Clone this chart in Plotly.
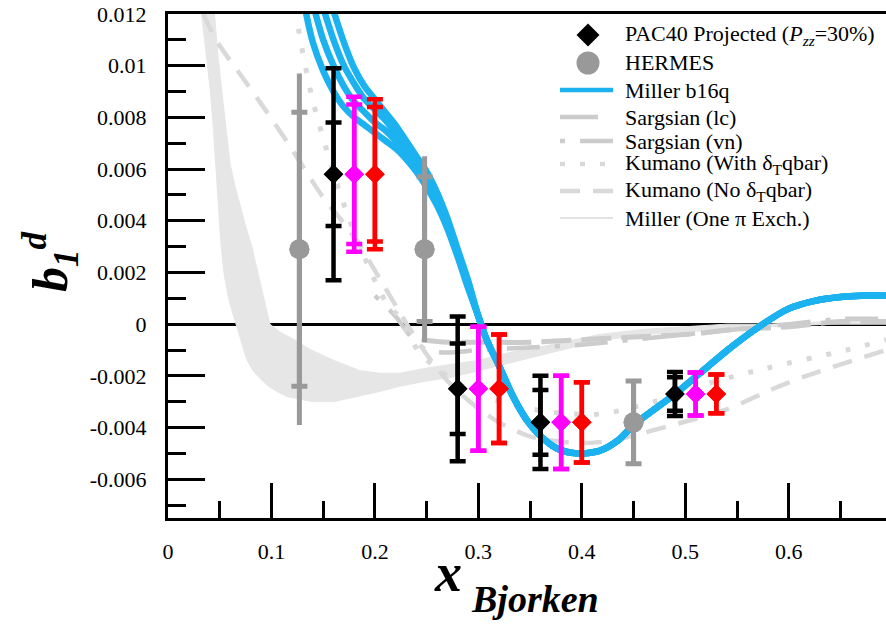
import plotly.graph_objects as go

# ---------------- data ----------------
# PAC40 projected points (black), with two companion series (magenta, red)
pac_x = [0.16, 0.28, 0.36, 0.49]
pac_y = [0.0058, -0.0025, -0.0038, -0.0027]
pac_err_total = [0.0041, 0.0028, 0.0018, 0.00085]
pac_err_stat = [0.0020, 0.00175, 0.00125, 0.00065]

mag_x = [0.18, 0.30, 0.38, 0.51]
mag_err_a = [0.0030, 0.0024, 0.0018, 0.00083]
mag_err_b = [0.0027, 0.0024, 0.0018, 0.00083]

red_x = [0.20, 0.32, 0.40, 0.53]
red_err_a = [0.0029, 0.0021, 0.00155, 0.00075]
red_err_b = [0.0026, 0.0021, 0.00155, 0.00075]

# HERMES measurement
hermes_x = [0.127, 0.248, 0.45]
hermes_y = [0.0029, 0.0029, -0.0038]
hermes_err_total = [0.0068, 0.0036, 0.0016]
hermes_err_stat = [0.0053, 0.0028, 0.0016]

# Miller b16q: four curves that merge into one above x ~ 0.3
b16q_1_x = [0.131, 0.14, 0.15, 0.16, 0.17, 0.18, 0.19, 0.20, 0.21, 0.22, 0.23, 0.24, 0.25, 0.26, 0.27, 0.28, 0.29]
b16q_1_y = [0.0125, 0.0109, 0.0098, 0.0090, 0.0084, 0.0080, 0.0077, 0.0074, 0.0071, 0.0068, 0.0064, 0.0059, 0.0053, 0.0046, 0.0037, 0.0026, 0.0014]
b16q_2_x = [0.14, 0.15, 0.16, 0.17, 0.18, 0.19, 0.20, 0.21, 0.22, 0.23, 0.24, 0.25, 0.26, 0.27, 0.28, 0.29]
b16q_2_y = [0.0124, 0.0110, 0.0100, 0.0092, 0.0086, 0.0082, 0.0078, 0.0075, 0.0071, 0.0066, 0.0061, 0.0055, 0.0048, 0.0038, 0.0027, 0.0015]
b16q_3_x = [0.148, 0.16, 0.17, 0.18, 0.19, 0.20, 0.21, 0.22, 0.23, 0.24, 0.25, 0.26, 0.27, 0.28, 0.29]
b16q_3_y = [0.0125, 0.0110, 0.0100, 0.0093, 0.0087, 0.0083, 0.0079, 0.0074, 0.0069, 0.0063, 0.0057, 0.0049, 0.0039, 0.0028, 0.0016]
b16q_4_x = [0.157, 0.17, 0.18, 0.19, 0.20, 0.21, 0.22, 0.23, 0.24, 0.25, 0.26, 0.27, 0.28, 0.29]
b16q_4_y = [0.0125, 0.0109, 0.0099, 0.0092, 0.0087, 0.0082, 0.0077, 0.0071, 0.0065, 0.0059, 0.0051, 0.0041, 0.0029, 0.0017]
b16q_tail_x = [0.30, 0.308, 0.321, 0.3335, 0.3466, 0.3594, 0.3755, 0.395, 0.417, 0.435, 0.45,
               0.47, 0.49, 0.514, 0.546, 0.575, 0.60, 0.625, 0.65, 0.67, 0.694]
b16q_tail_y = [0.0003, -0.0006, -0.0017, -0.0028, -0.0037, -0.0043, -0.0048, -0.0050, -0.0049, -0.0045, -0.0039,
               -0.0033, -0.0027, -0.0019, -0.00084, 0.0, 0.0006, 0.0009, 0.00105, 0.0011, 0.0011]

# Sargsian light-cone and virtual-nucleon calculations
sarg_lc_x = [0.245, 0.27, 0.30, 0.35, 0.40, 0.45, 0.50, 0.55, 0.60, 0.65, 0.694]
sarg_lc_y = [-0.0006, -0.0007, -0.0007, -0.0007, -0.0006, -0.0005, -0.0004, -0.0002, -0.0001, 0.0001, 0.0001]
sarg_vn_x = [0.20, 0.22, 0.235, 0.25, 0.27, 0.30, 0.35, 0.40, 0.45, 0.50, 0.55, 0.60, 0.65, 0.694]
sarg_vn_y = [0.0011, 0.0003, -0.0005, -0.0010, -0.0011, -0.0010, -0.0009, -0.0008, -0.0006, -0.0004, -0.0002, 0.0, 0.0002, 0.0002]

# Kumano fits, with and without the tensor-polarized antiquark term
kum_with_x = [0.1235, 0.1275, 0.139, 0.1485, 0.166, 0.1855, 0.21, 0.225, 0.235, 0.245, 0.26, 0.28, 0.30,
              0.33, 0.37, 0.41, 0.43, 0.47, 0.53, 0.579, 0.656, 0.694]
kum_with_y = [0.0122, 0.0111, 0.0088, 0.0074, 0.0051, 0.0030, 0.0009, 0.0002, -0.0006, -0.0012, -0.0017,
              -0.0023, -0.0027, -0.0031, -0.0034, -0.0035, -0.0034, -0.0030, -0.0022, -0.0017, -0.0010, -0.0006]
kum_no_x = [0.034, 0.048, 0.071, 0.094, 0.116, 0.1256, 0.15, 0.17, 0.186, 0.21, 0.234, 0.256, 0.275, 0.298,
            0.32, 0.347, 0.37, 0.40, 0.43, 0.46, 0.488, 0.54, 0.585, 0.617, 0.694]
kum_no_y = [0.0120, 0.0109, 0.0096, 0.0083, 0.0070, 0.0064, 0.0049, 0.0039, 0.0030, 0.0014, -0.0002, -0.0015,
            -0.0024, -0.0032, -0.0038, -0.0043, -0.0045, -0.0046, -0.0045, -0.0042, -0.0039, -0.0033, -0.0025,
            -0.0020, -0.0010]

# Miller one-pion-exchange band (upper and lower edges)
ope_hi_x = [0.045, 0.048, 0.052, 0.056, 0.060, 0.065, 0.070, 0.075, 0.081, 0.090, 0.0985, 0.108, 0.121,
            0.137, 0.160, 0.1855, 0.205, 0.224, 0.25, 0.275, 0.30, 0.33, 0.37, 0.417, 0.46, 0.50, 0.54,
            0.58, 0.64, 0.694]
ope_hi_y = [0.0120, 0.0105, 0.0090, 0.0075, 0.0062, 0.0053, 0.0045, 0.0038, 0.0030, 0.0015, 0.0, -0.0003,
            -0.00058, -0.00097, -0.0014, -0.0018, -0.0019, -0.0019, -0.0017, -0.00155, -0.0014, -0.0011,
            -0.0008, -0.0004, -0.0002, -0.0001, 0.0, 0.0, 0.0001, 0.00015]
ope_lo_x = [0.0325, 0.037, 0.041, 0.044, 0.047, 0.049, 0.051, 0.054, 0.058, 0.062, 0.066, 0.071, 0.076,
            0.082, 0.089, 0.097, 0.105, 0.115, 0.1275, 0.14, 0.160, 0.1855, 0.205, 0.224, 0.25, 0.275,
            0.30, 0.33, 0.37, 0.417, 0.46, 0.50, 0.54, 0.58, 0.64, 0.694]
ope_lo_y = [0.0120, 0.0105, 0.0090, 0.0075, 0.0060, 0.0045, 0.0032, 0.0020, 0.0011, 0.0005, 0.0, -0.0007,
            -0.00135, -0.0018, -0.0021, -0.0024, -0.0026, -0.0028, -0.0029, -0.0030, -0.0030, -0.00277,
            -0.0026, -0.0024, -0.0022, -0.00205, -0.0018, -0.0015, -0.0011, -0.00064, -0.0004, -0.0003,
            -0.0002, -0.0001, 0.0, 0.0]

# axis ticks
x_tick_vals = [0, 0.1, 0.2, 0.3, 0.4, 0.5, 0.6]
x_tick_text = ["0", "0.1", "0.2", "0.3", "0.4", "0.5", "0.6"]
x_minor_vals = [0.05, 0.15, 0.25, 0.35, 0.45, 0.55, 0.65]
y_tick_vals = [-0.006, -0.004, -0.002, 0, 0.002, 0.004, 0.006, 0.008, 0.01, 0.012]
y_tick_text = ["-0.006", "-0.004", "-0.002", "0", "0.002", "0.004", "0.006", "0.008", "0.01", "0.012"]
y_minor_vals = [-0.007, -0.005, -0.003, -0.001, 0.001, 0.003, 0.005, 0.007, 0.009, 0.011]

# ---------------- styles ----------------
SERIF = "Liberation Serif, Times New Roman, serif"
BLUE = "#1CB2EF"
MAGENTA = "#FF00FF"
RED = "#FF0000"
HERMES_GRAY = "#999999"
SARG_GRAY = "#CCCCCC"
KUM_GRAY = "#D9D9D9"
BAND_GRAY = "#E6E6E6"

DASH_LC = "30px,10px"
DASH_VN = "5px,15px,33px,15px"
DASH_DOT = "5px,15px"
DASH_DASH = "20px,13px"

W, H = 886, 626
ML, MR, MT, MB = 168, 0, 14, 108
PW, PH = W - ML - MR, H - MT - MB


def fx(px):
    return (px - ML) / PW


def fy(py):
    return (H - MB - py) / PH


fig = go.Figure()

# one-pion-exchange band
fig.add_trace(go.Scatter(
    x=ope_hi_x + ope_lo_x[::-1], y=ope_hi_y + ope_lo_y[::-1],
    mode="lines", fill="toself", fillcolor=BAND_GRAY,
    line=dict(color=BAND_GRAY, width=1),
    hoverinfo="skip", showlegend=False))

# model curves
for xs, ys, color, width, dash in [
    (sarg_lc_x, sarg_lc_y, SARG_GRAY, 5, DASH_LC),
    (sarg_vn_x, sarg_vn_y, SARG_GRAY, 4.5, DASH_VN),
    (kum_with_x, kum_with_y, KUM_GRAY, 5, DASH_DOT),
    (kum_no_x, kum_no_y, KUM_GRAY, 4.5, DASH_DASH),
]:
    fig.add_trace(go.Scatter(x=xs, y=ys, mode="lines",
                             line=dict(color=color, width=width, dash=dash, shape="spline", smoothing=0.8),
                             showlegend=False))

for hx, hy in [(b16q_1_x, b16q_1_y), (b16q_2_x, b16q_2_y), (b16q_3_x, b16q_3_y), (b16q_4_x, b16q_4_y)]:
    fig.add_trace(go.Scatter(x=hx + b16q_tail_x, y=hy + b16q_tail_y, mode="lines",
                             line=dict(color=BLUE, width=6.5, shape="spline", smoothing=0.8),
                             showlegend=False))

# HERMES points: total error without caps, statistical error with caps
fig.add_trace(go.Scatter(
    x=hermes_x, y=hermes_y, mode="markers",
    marker=dict(symbol="circle", size=20, color=HERMES_GRAY),
    error_y=dict(type="data", array=hermes_err_total, color=HERMES_GRAY, thickness=5, width=0),
    showlegend=False))
fig.add_trace(go.Scatter(
    x=hermes_x, y=hermes_y, mode="markers",
    marker=dict(symbol="circle", size=20, color=HERMES_GRAY),
    error_y=dict(type="data", array=hermes_err_stat, color=HERMES_GRAY, thickness=5, width=8),
    showlegend=False))

# projected points
for xs, errs, color in [
    (pac_x, [pac_err_total, pac_err_stat], "black"),
    (mag_x, [mag_err_a, mag_err_b], MAGENTA),
    (red_x, [red_err_a, red_err_b], RED),
]:
    for err in errs:
        fig.add_trace(go.Scatter(
            x=xs, y=pac_y, mode="markers",
            marker=dict(symbol="diamond", size=15, color=color),
            error_y=dict(type="data", array=err, color=color, thickness=4.5, width=8),
            showlegend=False))

# ---------------- hand-built legend ----------------
LEG_SYM_X = 588
LEG_LINE_X0, LEG_LINE_X1 = 560, 613
LEG_TEXT_X = 623
legend_rows = [
    ("PAC40 Projected (<i>P</i><sub><i>zz</i></sub>=30%)", 35, "diamond", "black", None, None),
    ("HERMES", 63, "circle", HERMES_GRAY, None, None),
    ("Miller b16q", 90, "line", BLUE, 4.5, "solid"),
    ("Sargsian (lc)", 117, "line", SARG_GRAY, 4.5, "38px,20px"),
    ("Sargsian (vn)", 141, "line", SARG_GRAY, 4.5, DASH_VN),
    ("Kumano (With δ<sub>T</sub>qbar)", 164, "line", KUM_GRAY, 4.5, DASH_DOT),
    ("Kumano (No δ<sub>T</sub>qbar)", 191, "line", KUM_GRAY, 4.5, DASH_DASH),
    ("Miller (One π Exch.)", 218, "line", "#E3E3E3", 2, "solid"),
]

shapes = []
annotations = []
for label, py, kind, color, lw, dash in legend_rows:
    if kind == "diamond":
        shapes.append(dict(type="path", xref="paper", yref="paper", xsizemode="pixel", ysizemode="pixel",
                           xanchor=fx(LEG_SYM_X), yanchor=fy(py),
                           path="M0,11.5 L11.5,0 L0,-11.5 L-11.5,0 Z", fillcolor=color, line=dict(width=0)))
    elif kind == "circle":
        shapes.append(dict(type="circle", xref="paper", yref="paper", xsizemode="pixel", ysizemode="pixel",
                           xanchor=fx(LEG_SYM_X), yanchor=fy(py), x0=-11.5, x1=11.5, y0=-11.5, y1=11.5,
                           fillcolor=color, line=dict(width=0)))
    else:
        shapes.append(dict(type="line", xref="paper", yref="paper",
                           x0=fx(LEG_LINE_X0), x1=fx(LEG_LINE_X1), y0=fy(py), y1=fy(py),
                           line=dict(color=color, width=lw, dash=dash)))
    annotations.append(dict(text=label, xref="paper", yref="paper", x=fx(LEG_TEXT_X), y=fy(py),
                            xanchor="left", yanchor="middle", showarrow=False,
                            font=dict(family=SERIF, size=22, color="black")))

# axis titles
annotations.append(dict(text="<b><i>x</i></b>", xref="paper", yref="paper", x=fx(448), y=fy(573),
                        xanchor="center", yanchor="middle", showarrow=False,
                        font=dict(family=SERIF, size=54, color="black")))
annotations.append(dict(text="<b><i>Bjorken</i></b>", xref="paper", yref="paper", x=fx(469), y=fy(599),
                        xanchor="left", yanchor="middle", showarrow=False,
                        font=dict(family=SERIF, size=38, color="black")))
annotations.append(dict(text="<b><i>b</i></b><sub><b><i>1</i></b></sub><sup><b><i>d</i></b></sup>",
                        xref="paper", yref="paper", x=fx(50), y=fy(262), textangle=-90,
                        xanchor="center", yanchor="middle", showarrow=False,
                        font=dict(family=SERIF, size=50, color="black")))

fig.update_layout(
    width=W, height=H, autosize=False,
    margin=dict(l=ML, r=MR, t=MT, b=MB, pad=0),
    paper_bgcolor="white", plot_bgcolor="white",
    showlegend=False,
    shapes=shapes, annotations=annotations,
    font=dict(family=SERIF, size=22, color="black"),
)
fig.update_xaxes(
    range=[0, 0.694], showgrid=False, zeroline=False,
    showline=True, linecolor="black", linewidth=3, mirror=True,
    ticks="inside", ticklen=35, tickwidth=2.5, tickcolor="black",
    tickmode="array", tickvals=x_tick_vals, ticktext=x_tick_text,
    tickfont=dict(family=SERIF, size=22, color="black"), ticklabelstandoff=12,
    minor=dict(ticks="inside", ticklen=17, tickwidth=2.5, tickcolor="black",
               tickmode="array", tickvals=x_minor_vals, showgrid=False),
)
fig.update_yaxes(
    range=[-0.0075, 0.012], showgrid=False,
    zeroline=True, zerolinecolor="black", zerolinewidth=2.5,
    showline=True, linecolor="black", linewidth=3,
    ticks="inside", ticklen=37, tickwidth=2.5, tickcolor="black",
    tickmode="array", tickvals=y_tick_vals, ticktext=y_tick_text,
    tickfont=dict(family=SERIF, size=22, color="black"), ticklabelstandoff=14,
    minor=dict(ticks="inside", ticklen=18, tickwidth=2.5, tickcolor="black",
               tickmode="array", tickvals=y_minor_vals, showgrid=False),
)

fig.write_html("out.html")
